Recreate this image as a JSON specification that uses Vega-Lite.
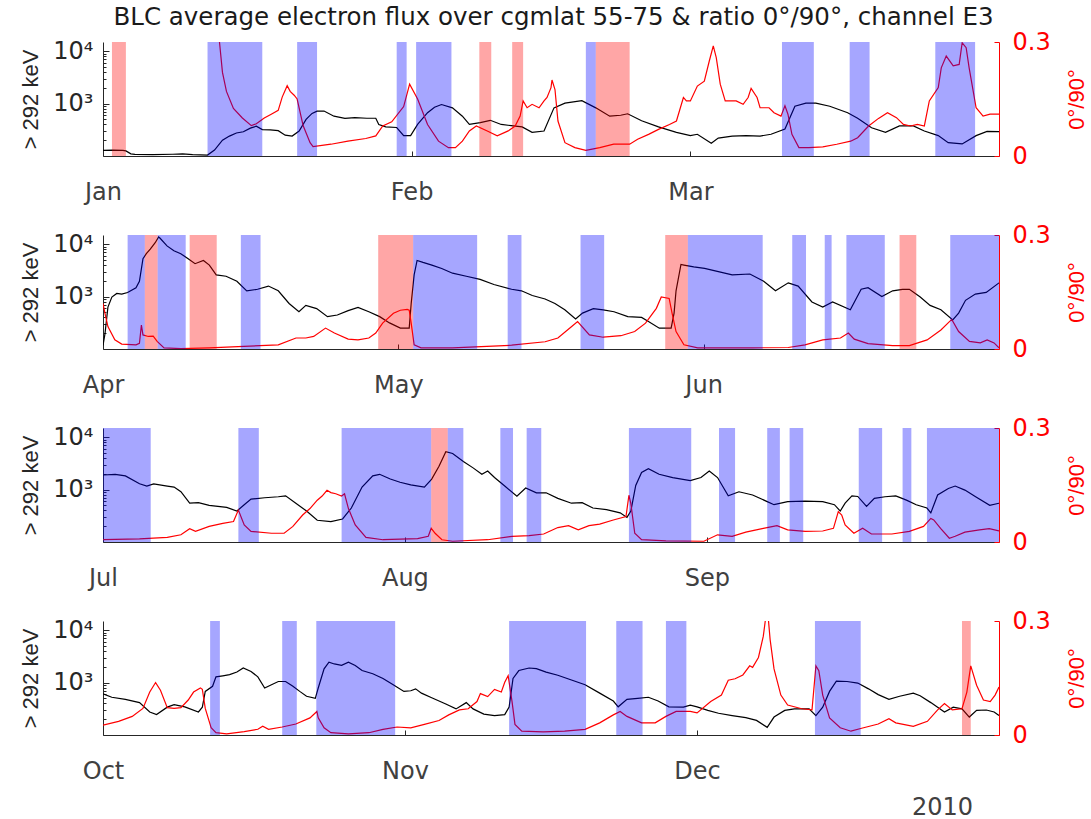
{
  "$schema": "https://vega.github.io/schema/vega-lite/v6.json",
  "padding": {"left": 19, "top": 4, "right": 0, "bottom": 12},
  "background": "#ffffff",
  "title": {
    "text": "BLC average electron flux over cgmlat 55-75 & ratio 0°/90°, channel E3",
    "font": "DejaVu Sans", "fontSize": 24.5, "fontWeight": "normal", "color": "#1a1a1a",
    "anchor": "middle", "offset": 0
  },
  "datasets": {
    "flux": [
      {"q":1,"doy":1,"v":128},{"q":1,"doy":2,"v":130},{"q":1,"doy":3,"v":128},{"q":1,"doy":3.3,"v":125},{"q":1,"doy":3.8,"v":110},{"q":1,"doy":4.2,"v":107},{"q":1,"doy":6,"v":106},{"q":1,"doy":8,"v":108},{"q":1,"doy":9,"v":110},{"q":1,"doy":10,"v":106},{"q":1,"doy":11.5,"v":104},{"q":1,"doy":12.2,"v":130},{"q":1,"doy":13,"v":200},{"q":1,"doy":13.7,"v":240},{"q":1,"doy":14.4,"v":275},{"q":1,"doy":15.1,"v":290},{"q":1,"doy":15.8,"v":340},{"q":1,"doy":16.4,"v":370},{"q":1,"doy":17,"v":320},{"q":1,"doy":17.8,"v":315},{"q":1,"doy":18.6,"v":305},{"q":1,"doy":19.3,"v":250},{"q":1,"doy":20,"v":240},{"q":1,"doy":20.7,"v":300},{"q":1,"doy":21.4,"v":500},{"q":1,"doy":22,"v":650},{"q":1,"doy":22.5,"v":720},{"q":1,"doy":23.2,"v":720},{"q":1,"doy":24.2,"v":575},{"q":1,"doy":25.3,"v":525},{"q":1,"doy":26.3,"v":540},{"q":1,"doy":27.5,"v":525},{"q":1,"doy":28.4,"v":525},{"q":1,"doy":28.7,"v":400},{"q":1,"doy":29.4,"v":360},{"q":1,"doy":30.5,"v":350},{"q":1,"doy":31.2,"v":245},{"q":1,"doy":31.9,"v":245},{"q":1,"doy":32.6,"v":400},{"q":1,"doy":33.6,"v":670},{"q":1,"doy":34.3,"v":850},{"q":1,"doy":35,"v":960},{"q":1,"doy":36.1,"v":830},{"q":1,"doy":37.1,"v":575},{"q":1,"doy":37.8,"v":400},{"q":1,"doy":38.9,"v":435},{"q":1,"doy":39.9,"v":480},{"q":1,"doy":41,"v":400},{"q":1,"doy":42,"v":380},{"q":1,"doy":43.1,"v":360},{"q":1,"doy":44.1,"v":283},{"q":1,"doy":45.3,"v":300},{"q":1,"doy":46.3,"v":830},{"q":1,"doy":47.4,"v":1020},{"q":1,"doy":49.1,"v":1140},{"q":1,"doy":50.5,"v":830},{"q":1,"doy":51.9,"v":575},{"q":1,"doy":53,"v":600},{"q":1,"doy":53.7,"v":640},{"q":1,"doy":55.1,"v":470},{"q":1,"doy":56.8,"v":360},{"q":1,"doy":58.6,"v":283},{"q":1,"doy":60,"v":245},{"q":1,"doy":60.7,"v":260},{"q":1,"doy":62.1,"v":175},{"q":1,"doy":62.8,"v":220},{"q":1,"doy":64.2,"v":240},{"q":1,"doy":65.6,"v":245},{"q":1,"doy":67,"v":240},{"q":1,"doy":68.1,"v":260},{"q":1,"doy":69.5,"v":326},{"q":1,"doy":70.5,"v":890},{"q":1,"doy":71.6,"v":1020},{"q":1,"doy":72.6,"v":1020},{"q":1,"doy":74,"v":890},{"q":1,"doy":75.8,"v":670},{"q":1,"doy":76.8,"v":525},{"q":1,"doy":78.2,"v":345},{"q":1,"doy":79.6,"v":283},{"q":1,"doy":81,"v":375},{"q":1,"doy":82.4,"v":375},{"q":1,"doy":83.5,"v":300},{"q":1,"doy":84.9,"v":245},{"q":1,"doy":85.9,"v":180},{"q":1,"doy":87.3,"v":170},{"q":1,"doy":88.7,"v":245},{"q":1,"doy":89.8,"v":295},{"q":1,"doy":91,"v":292},

      {"q":2,"doy":91,"v":117},{"q":2,"doy":91.2,"v":195},{"q":2,"doy":91.5,"v":630},{"q":2,"doy":91.9,"v":980},{"q":2,"doy":92.4,"v":1150},{"q":2,"doy":92.9,"v":1120},{"q":2,"doy":93.5,"v":1200},{"q":2,"doy":94.35,"v":1480},{"q":2,"doy":94.7,"v":1960},{"q":2,"doy":95.06,"v":5300},{"q":2,"doy":95.4,"v":6600},{"q":2,"doy":95.8,"v":8100},{"q":2,"doy":96.3,"v":10700},{"q":2,"doy":96.65,"v":13800},{"q":2,"doy":96.8,"v":13000},{"q":2,"doy":97.5,"v":9300},{"q":2,"doy":98.2,"v":7500},{"q":2,"doy":98.9,"v":6600},{"q":2,"doy":99.65,"v":5300},{"q":2,"doy":100.35,"v":4250},{"q":2,"doy":101.2,"v":4900},{"q":2,"doy":101.8,"v":4000},{"q":2,"doy":102.5,"v":2600},{"q":2,"doy":103.5,"v":2450},{"q":2,"doy":104.6,"v":1960},{"q":2,"doy":105.6,"v":1290},{"q":2,"doy":106.7,"v":1380},{"q":2,"doy":107.8,"v":1590},{"q":2,"doy":108.8,"v":1290},{"q":2,"doy":109.9,"v":740},{"q":2,"doy":110.9,"v":515},{"q":2,"doy":111.6,"v":680},{"q":2,"doy":112.7,"v":590},{"q":2,"doy":113.8,"v":415},{"q":2,"doy":114.8,"v":445},{"q":2,"doy":115.9,"v":540},{"q":2,"doy":116.9,"v":620},{"q":2,"doy":118,"v":515},{"q":2,"doy":119.1,"v":415},{"q":2,"doy":120.1,"v":315},{"q":2,"doy":121.2,"v":250},{"q":2,"doy":122.1,"v":250},{"q":2,"doy":122.3,"v":740},{"q":2,"doy":122.6,"v":2600},{"q":2,"doy":122.9,"v":4900},{"q":2,"doy":123.5,"v":4500},{"q":2,"doy":124.4,"v":4000},{"q":2,"doy":125.4,"v":3450},{"q":2,"doy":126.5,"v":2800},{"q":2,"doy":127.9,"v":2450},{"q":2,"doy":129.3,"v":2130},{"q":2,"doy":130.7,"v":1700},{"q":2,"doy":132.5,"v":1380},{"q":2,"doy":133.5,"v":1290},{"q":2,"doy":134.6,"v":1050},{"q":2,"doy":135.9,"v":900},{"q":2,"doy":136.9,"v":740},{"q":2,"doy":137.9,"v":560},{"q":2,"doy":139,"v":375},{"q":2,"doy":139.7,"v":485},{"q":2,"doy":140.8,"v":590},{"q":2,"doy":141.8,"v":560},{"q":2,"doy":142.9,"v":515},{"q":2,"doy":144.3,"v":415},{"q":2,"doy":145.7,"v":400},{"q":2,"doy":146.4,"v":335},{"q":2,"doy":147.5,"v":250},{"q":2,"doy":148.7,"v":250},{"q":2,"doy":149,"v":485},{"q":2,"doy":149.2,"v":1290},{"q":2,"doy":149.7,"v":4100},{"q":2,"doy":150,"v":4000},{"q":2,"doy":151,"v":3700},{"q":2,"doy":152.1,"v":3450},{"q":2,"doy":153.5,"v":3000},{"q":2,"doy":154.9,"v":2600},{"q":2,"doy":156.7,"v":2700},{"q":2,"doy":158.1,"v":1960},{"q":2,"doy":159.3,"v":1290},{"q":2,"doy":160.6,"v":1830},{"q":2,"doy":161.6,"v":1590},{"q":2,"doy":163,"v":790},{"q":2,"doy":164.1,"v":630},{"q":2,"doy":165.1,"v":790},{"q":2,"doy":166.9,"v":560},{"q":2,"doy":168,"v":1380},{"q":2,"doy":168.7,"v":1480},{"q":2,"doy":170.1,"v":1000},{"q":2,"doy":171.2,"v":1290},{"q":2,"doy":172.2,"v":1380},{"q":2,"doy":172.9,"v":1380},{"q":2,"doy":174,"v":980},{"q":2,"doy":175,"v":680},{"q":2,"doy":176.1,"v":560},{"q":2,"doy":177.3,"v":360},{"q":2,"doy":177.9,"v":485},{"q":2,"doy":178.6,"v":850},{"q":2,"doy":179.6,"v":1120},{"q":2,"doy":180.7,"v":1200},{"q":2,"doy":182,"v":1830},

      {"q":3,"doy":182,"v":1900},{"q":3,"doy":183.25,"v":1960},{"q":3,"doy":184.3,"v":1830},{"q":3,"doy":185.75,"v":1290},{"q":3,"doy":186.5,"v":1170},{"q":3,"doy":187.2,"v":1290},{"q":3,"doy":188.6,"v":1170},{"q":3,"doy":189.3,"v":1120},{"q":3,"doy":190,"v":910},{"q":3,"doy":190.9,"v":550},{"q":3,"doy":191.8,"v":565},{"q":3,"doy":192.9,"v":500},{"q":3,"doy":194.7,"v":457},{"q":3,"doy":195.75,"v":390},{"q":3,"doy":196.5,"v":515},{"q":3,"doy":197.2,"v":660},{"q":3,"doy":198.6,"v":700},{"q":3,"doy":200,"v":730},{"q":3,"doy":200.75,"v":760},{"q":3,"doy":201.8,"v":550},{"q":3,"doy":202.9,"v":390},{"q":3,"doy":204,"v":260},{"q":3,"doy":205.4,"v":245},{"q":3,"doy":206.6,"v":275},{"q":3,"doy":207.5,"v":445},{"q":3,"doy":208.6,"v":1120},{"q":3,"doy":209.7,"v":1830},{"q":3,"doy":210.4,"v":1960},{"q":3,"doy":211.5,"v":1590},{"q":3,"doy":212.5,"v":1380},{"q":3,"doy":213.6,"v":1230},{"q":3,"doy":215,"v":1120},{"q":3,"doy":215.75,"v":1590},{"q":3,"doy":216.5,"v":2800},{"q":3,"doy":217.2,"v":5300},{"q":3,"doy":217.9,"v":4900},{"q":3,"doy":219,"v":3450},{"q":3,"doy":220,"v":2600},{"q":3,"doy":220.9,"v":1960},{"q":3,"doy":221.5,"v":2270},{"q":3,"doy":222.2,"v":1700},{"q":3,"doy":223.25,"v":1170},{"q":3,"doy":224.5,"v":750},{"q":3,"doy":225.4,"v":1070},{"q":3,"doy":226.5,"v":870},{"q":3,"doy":227.5,"v":870},{"q":3,"doy":228.7,"v":680},{"q":3,"doy":230.1,"v":550},{"q":3,"doy":231.2,"v":565},{"q":3,"doy":232.3,"v":445},{"q":3,"doy":233.7,"v":415},{"q":3,"doy":235.1,"v":360},{"q":3,"doy":235.8,"v":295},{"q":3,"doy":236.2,"v":390},{"q":3,"doy":236.7,"v":1200},{"q":3,"doy":237.3,"v":2130},{"q":3,"doy":238,"v":2500},{"q":3,"doy":239.1,"v":1960},{"q":3,"doy":240.5,"v":1700},{"q":3,"doy":242.3,"v":1480},{"q":3,"doy":243.4,"v":1700},{"q":3,"doy":244.25,"v":2270},{"q":3,"doy":245.1,"v":1700},{"q":3,"doy":246.2,"v":760},{"q":3,"doy":247.3,"v":910},{"q":3,"doy":248.7,"v":790},{"q":3,"doy":250.2,"v":590},{"q":3,"doy":250.9,"v":515},{"q":3,"doy":252.3,"v":590},{"q":3,"doy":254.1,"v":605},{"q":3,"doy":255.9,"v":590},{"q":3,"doy":257.1,"v":515},{"q":3,"doy":257.7,"v":390},{"q":3,"doy":258.2,"v":550},{"q":3,"doy":258.9,"v":760},{"q":3,"doy":259.5,"v":740},{"q":3,"doy":260.4,"v":480},{"q":3,"doy":261.2,"v":680},{"q":3,"doy":262.3,"v":730},{"q":3,"doy":263.4,"v":760},{"q":3,"doy":264.5,"v":630},{"q":3,"doy":265.5,"v":515},{"q":3,"doy":266.6,"v":445},{"q":3,"doy":267,"v":360},{"q":3,"doy":267.7,"v":790},{"q":3,"doy":268.8,"v":1050},{"q":3,"doy":269.5,"v":1170},{"q":3,"doy":270.5,"v":980},{"q":3,"doy":271.6,"v":730},{"q":3,"doy":273.05,"v":500},{"q":3,"doy":274,"v":550},

      {"q":4,"doy":274,"v":610},{"q":4,"doy":274.9,"v":525},{"q":4,"doy":276.3,"v":480},{"q":4,"doy":277.75,"v":415},{"q":4,"doy":278.8,"v":275},{"q":4,"doy":279.5,"v":245},{"q":4,"doy":280.6,"v":340},{"q":4,"doy":281.3,"v":380},{"q":4,"doy":282.4,"v":345},{"q":4,"doy":283.8,"v":275},{"q":4,"doy":284.2,"v":340},{"q":4,"doy":284.5,"v":680},{"q":4,"doy":285.25,"v":850},{"q":4,"doy":285.6,"v":1290},{"q":4,"doy":286.3,"v":1350},{"q":4,"doy":287,"v":1420},{"q":4,"doy":287.75,"v":1590},{"q":4,"doy":288.4,"v":1900},{"q":4,"doy":289.2,"v":1630},{"q":4,"doy":289.9,"v":1290},{"q":4,"doy":290.6,"v":790},{"q":4,"doy":291.3,"v":910},{"q":4,"doy":292,"v":1050},{"q":4,"doy":292.75,"v":1050},{"q":4,"doy":293.5,"v":850},{"q":4,"doy":294.2,"v":680},{"q":4,"doy":294.9,"v":550},{"q":4,"doy":295.8,"v":500},{"q":4,"doy":296.1,"v":790},{"q":4,"doy":296.7,"v":1830},{"q":4,"doy":297.2,"v":2450},{"q":4,"doy":297.75,"v":2270},{"q":4,"doy":298.5,"v":2130},{"q":4,"doy":299.2,"v":2450},{"q":4,"doy":299.9,"v":2130},{"q":4,"doy":300.6,"v":1700},{"q":4,"doy":301.7,"v":1480},{"q":4,"doy":302.75,"v":1200},{"q":4,"doy":303.8,"v":910},{"q":4,"doy":304.9,"v":680},{"q":4,"doy":305.6,"v":700},{"q":4,"doy":306.1,"v":760},{"q":4,"doy":306.7,"v":630},{"q":4,"doy":307.75,"v":515},{"q":4,"doy":309.2,"v":390},{"q":4,"doy":310.25,"v":315},{"q":4,"doy":311.3,"v":415},{"q":4,"doy":312,"v":315},{"q":4,"doy":313.1,"v":250},{"q":4,"doy":314.2,"v":235},{"q":4,"doy":315.25,"v":245},{"q":4,"doy":315.7,"v":340},{"q":4,"doy":316.1,"v":1200},{"q":4,"doy":316.7,"v":1700},{"q":4,"doy":317.75,"v":1900},{"q":4,"doy":318.5,"v":1850},{"q":4,"doy":319.5,"v":1590},{"q":4,"doy":320.7,"v":1380},{"q":4,"doy":322.1,"v":1120},{"q":4,"doy":323.5,"v":910},{"q":4,"doy":325,"v":630},{"q":4,"doy":326.4,"v":445},{"q":4,"doy":326.9,"v":345},{"q":4,"doy":327.8,"v":480},{"q":4,"doy":328.9,"v":500},{"q":4,"doy":330,"v":525},{"q":4,"doy":331,"v":445},{"q":4,"doy":332.1,"v":345},{"q":4,"doy":333.6,"v":340},{"q":4,"doy":334.3,"v":370},{"q":4,"doy":335,"v":345},{"q":4,"doy":336.1,"v":295},{"q":4,"doy":337.2,"v":260},{"q":4,"doy":338.6,"v":235},{"q":4,"doy":340,"v":215},{"q":4,"doy":341.1,"v":190},{"q":4,"doy":342.2,"v":140},{"q":4,"doy":342.9,"v":220},{"q":4,"doy":344,"v":295},{"q":4,"doy":345,"v":315},{"q":4,"doy":346.5,"v":315},{"q":4,"doy":347.2,"v":235},{"q":4,"doy":347.9,"v":340},{"q":4,"doy":348.6,"v":680},{"q":4,"doy":349.3,"v":1070},{"q":4,"doy":350.4,"v":1050},{"q":4,"doy":351.5,"v":980},{"q":4,"doy":352.6,"v":760},{"q":4,"doy":353.6,"v":590},{"q":4,"doy":354.7,"v":480},{"q":4,"doy":355.8,"v":550},{"q":4,"doy":357.2,"v":630},{"q":4,"doy":357.9,"v":560},{"q":4,"doy":359,"v":415},{"q":4,"doy":360.4,"v":275},{"q":4,"doy":361.3,"v":340},{"q":4,"doy":362.2,"v":315},{"q":4,"doy":362.95,"v":220},{"q":4,"doy":363.7,"v":295},{"q":4,"doy":364.7,"v":300},{"q":4,"doy":365.5,"v":275},{"q":4,"doy":366,"v":235}
    ],
    "ratio": [
      {"q":1,"doy":1,"v":0.6},{"q":1,"doy":11.5,"v":0.6},{"q":1,"doy":12.3,"v":0.42},{"q":1,"doy":12.7,"v":0.3},{"q":1,"doy":13,"v":0.22},{"q":1,"doy":13.4,"v":0.17},{"q":1,"doy":14.1,"v":0.125},{"q":1,"doy":15,"v":0.1},{"q":1,"doy":15.9,"v":0.08},{"q":1,"doy":16.4,"v":0.085},{"q":1,"doy":17.2,"v":0.1},{"q":1,"doy":17.9,"v":0.11},{"q":1,"doy":18.6,"v":0.12},{"q":1,"doy":19,"v":0.155},{"q":1,"doy":19.5,"v":0.185},{"q":1,"doy":19.8,"v":0.17},{"q":1,"doy":20.2,"v":0.16},{"q":1,"doy":20.5,"v":0.15},{"q":1,"doy":21.1,"v":0.08},{"q":1,"doy":21.8,"v":0.035},{"q":1,"doy":22.1,"v":0.025},{"q":1,"doy":23.9,"v":0.031},{"q":1,"doy":25.6,"v":0.039},{"q":1,"doy":27.4,"v":0.046},{"q":1,"doy":28.4,"v":0.053},{"q":1,"doy":29.1,"v":0.079},{"q":1,"doy":30,"v":0.09},{"q":1,"doy":31.2,"v":0.13},{"q":1,"doy":31.8,"v":0.189},{"q":1,"doy":32.6,"v":0.15},{"q":1,"doy":33.6,"v":0.083},{"q":1,"doy":34.7,"v":0.039},{"q":1,"doy":35.7,"v":0.022},{"q":1,"doy":36.4,"v":0.022},{"q":1,"doy":37.1,"v":0.039},{"q":1,"doy":37.8,"v":0.066},{"q":1,"doy":38.5,"v":0.079},{"q":1,"doy":39.6,"v":0.066},{"q":1,"doy":40.6,"v":0.053},{"q":1,"doy":41.7,"v":0.066},{"q":1,"doy":42.4,"v":0.079},{"q":1,"doy":42.9,"v":0.105},{"q":1,"doy":43.2,"v":0.145},{"q":1,"doy":43.6,"v":0.127},{"q":1,"doy":44.1,"v":0.136},{"q":1,"doy":44.8,"v":0.127},{"q":1,"doy":45.3,"v":0.145},{"q":1,"doy":45.6,"v":0.154},{"q":1,"doy":46,"v":0.18},{"q":1,"doy":46.1,"v":0.2},{"q":1,"doy":46.4,"v":0.175},{"q":1,"doy":46.7,"v":0.092},{"q":1,"doy":47.4,"v":0.035},{"q":1,"doy":48.4,"v":0.022},{"q":1,"doy":49.5,"v":0.015},{"q":1,"doy":50.9,"v":0.022},{"q":1,"doy":52.3,"v":0.031},{"q":1,"doy":53.9,"v":0.031},{"q":1,"doy":54.7,"v":0.044},{"q":1,"doy":55.8,"v":0.057},{"q":1,"doy":56.8,"v":0.07},{"q":1,"doy":57.9,"v":0.083},{"q":1,"doy":58.6,"v":0.092},{"q":1,"doy":59.3,"v":0.154},{"q":1,"doy":59.6,"v":0.145},{"q":1,"doy":60,"v":0.145},{"q":1,"doy":60.7,"v":0.184},{"q":1,"doy":61.4,"v":0.197},{"q":1,"doy":61.9,"v":0.25},{"q":1,"doy":62.3,"v":0.29},{"q":1,"doy":62.6,"v":0.259},{"q":1,"doy":63,"v":0.189},{"q":1,"doy":63.5,"v":0.145},{"q":1,"doy":64.6,"v":0.145},{"q":1,"doy":65.3,"v":0.136},{"q":1,"doy":65.8,"v":0.154},{"q":1,"doy":66.1,"v":0.178},{"q":1,"doy":66.7,"v":0.154},{"q":1,"doy":67,"v":0.127},{"q":1,"doy":67.9,"v":0.127},{"q":1,"doy":68.4,"v":0.114},{"q":1,"doy":69.1,"v":0.105},{"q":1,"doy":69.5,"v":0.132},{"q":1,"doy":69.8,"v":0.11},{"q":1,"doy":70.2,"v":0.057},{"q":1,"doy":70.9,"v":0.022},{"q":1,"doy":71.9,"v":0.022},{"q":1,"doy":73.3,"v":0.024},{"q":1,"doy":74.7,"v":0.031},{"q":1,"doy":76.1,"v":0.039},{"q":1,"doy":76.8,"v":0.048},{"q":1,"doy":77.9,"v":0.079},{"q":1,"doy":78.9,"v":0.099},{"q":1,"doy":79.8,"v":0.114},{"q":1,"doy":80.7,"v":0.101},{"q":1,"doy":81.4,"v":0.083},{"q":1,"doy":82.1,"v":0.079},{"q":1,"doy":82.8,"v":0.083},{"q":1,"doy":83.5,"v":0.079},{"q":1,"doy":84,"v":0.145},{"q":1,"doy":84.9,"v":0.18},{"q":1,"doy":85.2,"v":0.232},{"q":1,"doy":85.7,"v":0.263},{"q":1,"doy":86.4,"v":0.237},{"q":1,"doy":87,"v":0.241},{"q":1,"doy":87.3,"v":0.298},{"q":1,"doy":87.7,"v":0.285},{"q":1,"doy":88,"v":0.232},{"q":1,"doy":88.7,"v":0.127},{"q":1,"doy":89.4,"v":0.105},{"q":1,"doy":90.1,"v":0.11},{"q":1,"doy":91,"v":0.11},

      {"q":2,"doy":91,"v":0.12},{"q":2,"doy":91.2,"v":0.094},{"q":2,"doy":91.5,"v":0.059},{"q":2,"doy":92.2,"v":0.024},{"q":2,"doy":92.9,"v":0.013},{"q":2,"doy":94.35,"v":0.011},{"q":2,"doy":94.7,"v":0.015},{"q":2,"doy":94.9,"v":0.063},{"q":2,"doy":95.06,"v":0.037},{"q":2,"doy":95.6,"v":0.033},{"q":2,"doy":96.1,"v":0.034},{"q":2,"doy":96.5,"v":0.02},{"q":2,"doy":97.2,"v":0.003},{"q":2,"doy":98.9,"v":0.001},{"q":2,"doy":101.8,"v":0.003},{"q":2,"doy":105.3,"v":0.007},{"q":2,"doy":108.8,"v":0.011},{"q":2,"doy":110.6,"v":0.029},{"q":2,"doy":111.6,"v":0.029},{"q":2,"doy":112.4,"v":0.033},{"q":2,"doy":113.6,"v":0.055},{"q":2,"doy":114.5,"v":0.042},{"q":2,"doy":115.9,"v":0.026},{"q":2,"doy":116.9,"v":0.024},{"q":2,"doy":118,"v":0.029},{"q":2,"doy":118.7,"v":0.042},{"q":2,"doy":119.4,"v":0.068},{"q":2,"doy":120.5,"v":0.094},{"q":2,"doy":121.2,"v":0.102},{"q":2,"doy":121.9,"v":0.104},{"q":2,"doy":122.1,"v":0.102},{"q":2,"doy":122.3,"v":0.068},{"q":2,"doy":122.6,"v":0.011},{"q":2,"doy":123.3,"v":0.003},{"q":2,"doy":126.5,"v":0.003},{"q":2,"doy":130,"v":0.007},{"q":2,"doy":132.5,"v":0.01},{"q":2,"doy":135.9,"v":0.019},{"q":2,"doy":137.2,"v":0.029},{"q":2,"doy":138.6,"v":0.059},{"q":2,"doy":139.2,"v":0.072},{"q":2,"doy":140.4,"v":0.037},{"q":2,"doy":141.8,"v":0.031},{"q":2,"doy":143.6,"v":0.035},{"q":2,"doy":145,"v":0.046},{"q":2,"doy":146.1,"v":0.068},{"q":2,"doy":147.2,"v":0.107},{"q":2,"doy":147.7,"v":0.137},{"q":2,"doy":148.5,"v":0.133},{"q":2,"doy":148.8,"v":0.094},{"q":2,"doy":149.2,"v":0.046},{"q":2,"doy":150,"v":0.011},{"q":2,"doy":151.4,"v":0.003},{"q":2,"doy":157,"v":0.003},{"q":2,"doy":160.6,"v":0.004},{"q":2,"doy":162.3,"v":0.011},{"q":2,"doy":164.1,"v":0.024},{"q":2,"doy":165.9,"v":0.029},{"q":2,"doy":166.7,"v":0.042},{"q":2,"doy":167.3,"v":0.026},{"q":2,"doy":168.7,"v":0.014},{"q":2,"doy":171.2,"v":0.009},{"q":2,"doy":172.9,"v":0.009},{"q":2,"doy":174.7,"v":0.024},{"q":2,"doy":176.1,"v":0.05},{"q":2,"doy":177.2,"v":0.078},{"q":2,"doy":177.9,"v":0.046},{"q":2,"doy":179,"v":0.02},{"q":2,"doy":180.1,"v":0.016},{"q":2,"doy":180.8,"v":0.024},{"q":2,"doy":181.5,"v":0.016},{"q":2,"doy":182,"v":0.003},

      {"q":3,"doy":182,"v":0.006},{"q":3,"doy":185.75,"v":0.008},{"q":3,"doy":188.6,"v":0.012},{"q":3,"doy":190,"v":0.019},{"q":3,"doy":190.9,"v":0.035},{"q":3,"doy":191.5,"v":0.028},{"q":3,"doy":192.9,"v":0.041},{"q":3,"doy":194.3,"v":0.049},{"q":3,"doy":195.4,"v":0.054},{"q":3,"doy":195.9,"v":0.084},{"q":3,"doy":196.5,"v":0.045},{"q":3,"doy":197.2,"v":0.028},{"q":3,"doy":199.3,"v":0.023},{"q":3,"doy":200.6,"v":0.023},{"q":3,"doy":201.5,"v":0.041},{"q":3,"doy":202.5,"v":0.071},{"q":3,"doy":203.25,"v":0.088},{"q":3,"doy":204,"v":0.11},{"q":3,"doy":204.5,"v":0.121},{"q":3,"doy":205,"v":0.136},{"q":3,"doy":205.4,"v":0.13},{"q":3,"doy":205.9,"v":0.127},{"q":3,"doy":206.5,"v":0.121},{"q":3,"doy":206.8,"v":0.127},{"q":3,"doy":207.2,"v":0.088},{"q":3,"doy":207.9,"v":0.045},{"q":3,"doy":209,"v":0.012},{"q":3,"doy":210.75,"v":0.006},{"q":3,"doy":214.3,"v":0.009},{"q":3,"doy":215.4,"v":0.015},{"q":3,"doy":215.7,"v":0.036},{"q":3,"doy":216.1,"v":0.023},{"q":3,"doy":216.8,"v":0.006},{"q":3,"doy":217.9,"v":0.002},{"q":3,"doy":221.5,"v":0.006},{"q":3,"doy":224,"v":0.015},{"q":3,"doy":225.75,"v":0.017},{"q":3,"doy":227.25,"v":0.021},{"q":3,"doy":228.7,"v":0.038},{"q":3,"doy":229.8,"v":0.043},{"q":3,"doy":230.8,"v":0.032},{"q":3,"doy":231.9,"v":0.043},{"q":3,"doy":233,"v":0.047},{"q":3,"doy":234.4,"v":0.058},{"q":3,"doy":235.7,"v":0.067},{"q":3,"doy":236,"v":0.123},{"q":3,"doy":236.2,"v":0.101},{"q":3,"doy":236.6,"v":0.023},{"q":3,"doy":237.3,"v":0.006},{"q":3,"doy":239.8,"v":0.003},{"q":3,"doy":243.7,"v":0.002},{"q":3,"doy":245.1,"v":0.019},{"q":3,"doy":246.6,"v":0.015},{"q":3,"doy":248,"v":0.026},{"q":3,"doy":249.8,"v":0.036},{"q":3,"doy":251.2,"v":0.043},{"q":3,"doy":252.3,"v":0.032},{"q":3,"doy":254.1,"v":0.028},{"q":3,"doy":255.9,"v":0.029},{"q":3,"doy":257,"v":0.036},{"q":3,"doy":257.5,"v":0.08},{"q":3,"doy":257.85,"v":0.071},{"q":3,"doy":258.2,"v":0.045},{"q":3,"doy":259.1,"v":0.023},{"q":3,"doy":260,"v":0.036},{"q":3,"doy":260.9,"v":0.021},{"q":3,"doy":263,"v":0.021},{"q":3,"doy":264.8,"v":0.028},{"q":3,"doy":266.25,"v":0.041},{"q":3,"doy":267,"v":0.062},{"q":3,"doy":267.3,"v":0.058},{"q":3,"doy":268,"v":0.036},{"q":3,"doy":268.9,"v":0.01},{"q":3,"doy":269.5,"v":0.015},{"q":3,"doy":270.5,"v":0.026},{"q":3,"doy":272,"v":0.032},{"q":3,"doy":273,"v":0.035},{"q":3,"doy":274,"v":0.029},

      {"q":4,"doy":274,"v":0.026},{"q":4,"doy":275.6,"v":0.036},{"q":4,"doy":277,"v":0.049},{"q":4,"doy":278.1,"v":0.07},{"q":4,"doy":278.8,"v":0.113},{"q":4,"doy":279.4,"v":0.138},{"q":4,"doy":279.9,"v":0.118},{"q":4,"doy":280.6,"v":0.072},{"q":4,"doy":281.3,"v":0.07},{"q":4,"doy":282,"v":0.072},{"q":4,"doy":282.75,"v":0.092},{"q":4,"doy":283.3,"v":0.113},{"q":4,"doy":284,"v":0.124},{"q":4,"doy":284.2,"v":0.12},{"q":4,"doy":284.5,"v":0.07},{"q":4,"doy":285.1,"v":0.019},{"q":4,"doy":285.6,"v":0.006},{"q":4,"doy":286.7,"v":0.003},{"q":4,"doy":288.5,"v":0.009},{"q":4,"doy":289.9,"v":0.015},{"q":4,"doy":290.4,"v":0.023},{"q":4,"doy":291,"v":0.015},{"q":4,"doy":292.4,"v":0.021},{"q":4,"doy":293.8,"v":0.029},{"q":4,"doy":295.25,"v":0.045},{"q":4,"doy":295.96,"v":0.062},{"q":4,"doy":296.1,"v":0.045},{"q":4,"doy":296.7,"v":0.019},{"q":4,"doy":297.4,"v":0.006},{"q":4,"doy":299.2,"v":0.003},{"q":4,"doy":301.3,"v":0.006},{"q":4,"doy":302.75,"v":0.015},{"q":4,"doy":304.2,"v":0.021},{"q":4,"doy":305.6,"v":0.019},{"q":4,"doy":307,"v":0.028},{"q":4,"doy":308.5,"v":0.038},{"q":4,"doy":309.5,"v":0.053},{"q":4,"doy":310.6,"v":0.066},{"q":4,"doy":311.5,"v":0.069},{"q":4,"doy":312.4,"v":0.088},{"q":4,"doy":312.75,"v":0.109},{"q":4,"doy":313.5,"v":0.101},{"q":4,"doy":314.2,"v":0.12},{"q":4,"doy":314.9,"v":0.113},{"q":4,"doy":315.25,"v":0.139},{"q":4,"doy":315.6,"v":0.156},{"q":4,"doy":316,"v":0.088},{"q":4,"doy":316.3,"v":0.028},{"q":4,"doy":317,"v":0.01},{"q":4,"doy":319.2,"v":0.008},{"q":4,"doy":321.4,"v":0.01},{"q":4,"doy":323.5,"v":0.015},{"q":4,"doy":325,"v":0.032},{"q":4,"doy":326.4,"v":0.053},{"q":4,"doy":327.1,"v":0.062},{"q":4,"doy":327.8,"v":0.049},{"q":4,"doy":329.3,"v":0.032},{"q":4,"doy":330.7,"v":0.032},{"q":4,"doy":331.8,"v":0.049},{"q":4,"doy":332.85,"v":0.062},{"q":4,"doy":334.3,"v":0.062},{"q":4,"doy":335,"v":0.058},{"q":4,"doy":336.4,"v":0.088},{"q":4,"doy":337.5,"v":0.105},{"q":4,"doy":338.2,"v":0.144},{"q":4,"doy":338.9,"v":0.148},{"q":4,"doy":339.7,"v":0.158},{"q":4,"doy":340.4,"v":0.182},{"q":4,"doy":340.7,"v":0.178},{"q":4,"doy":341.3,"v":0.204},{"q":4,"doy":341.8,"v":0.26},{"q":4,"doy":342.2,"v":0.34},{"q":4,"doy":342.5,"v":0.251},{"q":4,"doy":342.9,"v":0.174},{"q":4,"doy":343.6,"v":0.105},{"q":4,"doy":344.3,"v":0.079},{"q":4,"doy":345.75,"v":0.069},{"q":4,"doy":346.8,"v":0.066},{"q":4,"doy":347.2,"v":0.182},{"q":4,"doy":347.5,"v":0.169},{"q":4,"doy":347.9,"v":0.105},{"q":4,"doy":348.6,"v":0.045},{"q":4,"doy":349.7,"v":0.019},{"q":4,"doy":350.8,"v":0.01},{"q":4,"doy":351.8,"v":0.017},{"q":4,"doy":353.6,"v":0.029},{"q":4,"doy":354.7,"v":0.043},{"q":4,"doy":355.4,"v":0.032},{"q":4,"doy":357.2,"v":0.023},{"q":4,"doy":358.65,"v":0.036},{"q":4,"doy":359.7,"v":0.066},{"q":4,"doy":360.4,"v":0.083},{"q":4,"doy":361.2,"v":0.066},{"q":4,"doy":362.2,"v":0.069},{"q":4,"doy":362.7,"v":0.113},{"q":4,"doy":363.1,"v":0.182},{"q":4,"doy":363.7,"v":0.131},{"q":4,"doy":364.4,"v":0.092},{"q":4,"doy":365.1,"v":0.088},{"q":4,"doy":365.6,"v":0.105},{"q":4,"doy":366,"v":0.126}
    ],
    "bands": [
      {"q":1,"s":1.9,"e":3.3,"c":"red"},{"q":1,"s":11.5,"e":17,"c":"blue"},{"q":1,"s":20.5,"e":22.5,"c":"blue"},{"q":1,"s":30.5,"e":31.5,"c":"blue"},{"q":1,"s":32.45,"e":36,"c":"blue"},{"q":1,"s":38.8,"e":40,"c":"red"},{"q":1,"s":42.1,"e":43.2,"c":"red"},{"q":1,"s":49.5,"e":50.5,"c":"blue"},{"q":1,"s":50.5,"e":53.9,"c":"red"},{"q":1,"s":69.2,"e":72.4,"c":"blue"},{"q":1,"s":76,"e":78,"c":"blue"},{"q":1,"s":84.6,"e":88.6,"c":"blue"},
      {"q":2,"s":93.5,"e":95.25,"c":"blue"},{"q":2,"s":95.25,"e":96.55,"c":"red"},{"q":2,"s":96.55,"e":99.4,"c":"blue"},{"q":2,"s":99.8,"e":102.55,"c":"red"},{"q":2,"s":105,"e":107,"c":"blue"},{"q":2,"s":118.95,"e":122.5,"c":"red"},{"q":2,"s":122.5,"e":129,"c":"blue"},{"q":2,"s":132.1,"e":133.5,"c":"blue"},{"q":2,"s":139.5,"e":141.9,"c":"blue"},{"q":2,"s":148.1,"e":150.4,"c":"red"},{"q":2,"s":150.4,"e":158,"c":"blue"},{"q":2,"s":161,"e":162.4,"c":"blue"},{"q":2,"s":164.3,"e":165,"c":"blue"},{"q":2,"s":166.5,"e":170.4,"c":"blue"},{"q":2,"s":171.9,"e":173.6,"c":"red"},{"q":2,"s":177.05,"e":182,"c":"blue"},
      {"q":3,"s":182,"e":186.9,"c":"blue"},{"q":3,"s":195.9,"e":198,"c":"blue"},{"q":3,"s":206.5,"e":215.7,"c":"blue"},{"q":3,"s":215.7,"e":217.4,"c":"red"},{"q":3,"s":217.4,"e":219,"c":"blue"},{"q":3,"s":222.8,"e":224.1,"c":"blue"},{"q":3,"s":225.5,"e":227,"c":"blue"},{"q":3,"s":236,"e":242.4,"c":"blue"},{"q":3,"s":245.25,"e":246.9,"c":"blue"},{"q":3,"s":250.2,"e":251.5,"c":"blue"},{"q":3,"s":252.5,"e":253.9,"c":"blue"},{"q":3,"s":259.6,"e":262,"c":"blue"},{"q":3,"s":264.1,"e":265,"c":"blue"},{"q":3,"s":266.6,"e":274,"c":"blue"},
      {"q":4,"s":285,"e":286,"c":"blue"},{"q":4,"s":292.4,"e":293.9,"c":"blue"},{"q":4,"s":295.9,"e":304,"c":"blue"},{"q":4,"s":315.7,"e":323.6,"c":"blue"},{"q":4,"s":326.7,"e":329.4,"c":"blue"},{"q":4,"s":331.8,"e":333.9,"c":"blue"},{"q":4,"s":347.1,"e":351.8,"c":"blue"},{"q":4,"s":362.2,"e":363.1,"c":"red"}
    ]
  },
  "vconcat": [
    {
      "width": 896, "height": 114,
      "layer": [
        {"data": {"name": "bands"}, "transform": [{"filter": "datum.q == 1"}],
         "mark": {"type": "rect", "opacity": 0},
         "encoding": {
           "x": {"field": "s", "type": "quantitative", "scale": {"domain": [1, 91], "nice": false, "zero": false},
                 "axis": {"values": [1, 32, 60], "labelExpr": "datum.value == 1 ? 'Jan' : datum.value == 32 ? 'Feb' : 'Mar'", "title": null}},
           "x2": {"field": "e"}
         }},
        {"data": {"name": "flux"}, "transform": [{"filter": "datum.q == 1"}],
         "mark": {"type": "line", "color": "#000000", "strokeWidth": 1.2, "clip": true},
         "encoding": {
           "x": {"field": "doy", "type": "quantitative", "scale": {"domain": [1, 91], "nice": false, "zero": false}},
           "y": {"field": "v", "type": "quantitative", "scale": {"type": "log", "domain": [100, 15000], "nice": false},
                 "axis": {"values": [200,300,400,500,600,700,800,900,1000,2000,3000,4000,5000,6000,7000,8000,9000,10000],
                          "labelExpr": "datum.value == 1000 ? '10³' : datum.value == 10000 ? '10⁴' : ''",
                          "tickSize": {"condition": {"test": "datum.value == 1000 || datum.value == 10000", "value": -6}, "value": -3},
                          "labelPadding": 16, "title": "> 292 keV"}}
         }},
        {"data": {"name": "ratio"}, "transform": [{"filter": "datum.q == 1"}],
         "mark": {"type": "line", "color": "#ff0000", "strokeWidth": 1.2, "clip": true},
         "encoding": {
           "x": {"field": "doy", "type": "quantitative", "scale": {"domain": [1, 91], "nice": false, "zero": false}},
           "y": {"field": "v", "type": "quantitative", "scale": {"domain": [0, 0.3], "nice": false, "zero": false},
                 "axis": {"orient": "right", "values": [0, 0.3], "labelExpr": "datum.value == 0 ? '0' : '0.3'",
                          "tickSize": -5, "labelPadding": 18, "domainColor": "#ff0000", "tickColor": "#ff0000", "labelColor": "#ff0000",
                          "title": "0°/90°", "titleColor": "#ff0000", "titleAngle": 270, "titlePadding": 38}}
         }},
        {"data": {"name": "bands"}, "transform": [{"filter": "datum.q == 1"}],
         "mark": {"type": "rect", "opacity": 0.35},
         "encoding": {
           "x": {"field": "s", "type": "quantitative", "scale": {"domain": [1, 91], "nice": false, "zero": false}},
           "x2": {"field": "e"},
           "color": {"field": "c", "type": "nominal", "scale": {"domain": ["blue", "red"], "range": ["#0000ff", "#ff0000"]}, "legend": null}
         }}
      ],
      "resolve": {"scale": {"y": "independent"}}
    },
    {
      "width": 896, "height": 114,
      "layer": [
        {"data": {"name": "bands"}, "transform": [{"filter": "datum.q == 2"}],
         "mark": {"type": "rect", "opacity": 0},
         "encoding": {
           "x": {"field": "s", "type": "quantitative", "scale": {"domain": [91, 182], "nice": false, "zero": false},
                 "axis": {"values": [91, 121, 152], "labelExpr": "datum.value == 91 ? 'Apr' : datum.value == 121 ? 'May' : 'Jun'", "title": null}},
           "x2": {"field": "e"}
         }},
        {"data": {"name": "flux"}, "transform": [{"filter": "datum.q == 2"}],
         "mark": {"type": "line", "color": "#000000", "strokeWidth": 1.2, "clip": true},
         "encoding": {
           "x": {"field": "doy", "type": "quantitative", "scale": {"domain": [91, 182], "nice": false, "zero": false}},
           "y": {"field": "v", "type": "quantitative", "scale": {"type": "log", "domain": [100, 15000], "nice": false},
                 "axis": {"values": [200,300,400,500,600,700,800,900,1000,2000,3000,4000,5000,6000,7000,8000,9000,10000],
                          "labelExpr": "datum.value == 1000 ? '10³' : datum.value == 10000 ? '10⁴' : ''",
                          "tickSize": {"condition": {"test": "datum.value == 1000 || datum.value == 10000", "value": -6}, "value": -3},
                          "labelPadding": 16, "title": "> 292 keV"}}
         }},
        {"data": {"name": "ratio"}, "transform": [{"filter": "datum.q == 2"}],
         "mark": {"type": "line", "color": "#ff0000", "strokeWidth": 1.2, "clip": true},
         "encoding": {
           "x": {"field": "doy", "type": "quantitative", "scale": {"domain": [91, 182], "nice": false, "zero": false}},
           "y": {"field": "v", "type": "quantitative", "scale": {"domain": [0, 0.3], "nice": false, "zero": false},
                 "axis": {"orient": "right", "values": [0, 0.3], "labelExpr": "datum.value == 0 ? '0' : '0.3'",
                          "tickSize": -5, "labelPadding": 18, "domainColor": "#ff0000", "tickColor": "#ff0000", "labelColor": "#ff0000",
                          "title": "0°/90°", "titleColor": "#ff0000", "titleAngle": 270, "titlePadding": 38}}
         }},
        {"data": {"name": "bands"}, "transform": [{"filter": "datum.q == 2"}],
         "mark": {"type": "rect", "opacity": 0.35},
         "encoding": {
           "x": {"field": "s", "type": "quantitative", "scale": {"domain": [91, 182], "nice": false, "zero": false}},
           "x2": {"field": "e"},
           "color": {"field": "c", "type": "nominal", "scale": {"domain": ["blue", "red"], "range": ["#0000ff", "#ff0000"]}, "legend": null}
         }}
      ],
      "resolve": {"scale": {"y": "independent"}}
    },
    {
      "width": 896, "height": 114,
      "layer": [
        {"data": {"name": "bands"}, "transform": [{"filter": "datum.q == 3"}],
         "mark": {"type": "rect", "opacity": 0},
         "encoding": {
           "x": {"field": "s", "type": "quantitative", "scale": {"domain": [182, 274], "nice": false, "zero": false},
                 "axis": {"values": [182, 213, 244], "labelExpr": "datum.value == 182 ? 'Jul' : datum.value == 213 ? 'Aug' : 'Sep'", "title": null}},
           "x2": {"field": "e"}
         }},
        {"data": {"name": "flux"}, "transform": [{"filter": "datum.q == 3"}],
         "mark": {"type": "line", "color": "#000000", "strokeWidth": 1.2, "clip": true},
         "encoding": {
           "x": {"field": "doy", "type": "quantitative", "scale": {"domain": [182, 274], "nice": false, "zero": false}},
           "y": {"field": "v", "type": "quantitative", "scale": {"type": "log", "domain": [100, 15000], "nice": false},
                 "axis": {"values": [200,300,400,500,600,700,800,900,1000,2000,3000,4000,5000,6000,7000,8000,9000,10000],
                          "labelExpr": "datum.value == 1000 ? '10³' : datum.value == 10000 ? '10⁴' : ''",
                          "tickSize": {"condition": {"test": "datum.value == 1000 || datum.value == 10000", "value": -6}, "value": -3},
                          "labelPadding": 16, "title": "> 292 keV"}}
         }},
        {"data": {"name": "ratio"}, "transform": [{"filter": "datum.q == 3"}],
         "mark": {"type": "line", "color": "#ff0000", "strokeWidth": 1.2, "clip": true},
         "encoding": {
           "x": {"field": "doy", "type": "quantitative", "scale": {"domain": [182, 274], "nice": false, "zero": false}},
           "y": {"field": "v", "type": "quantitative", "scale": {"domain": [0, 0.3], "nice": false, "zero": false},
                 "axis": {"orient": "right", "values": [0, 0.3], "labelExpr": "datum.value == 0 ? '0' : '0.3'",
                          "tickSize": -5, "labelPadding": 18, "domainColor": "#ff0000", "tickColor": "#ff0000", "labelColor": "#ff0000",
                          "title": "0°/90°", "titleColor": "#ff0000", "titleAngle": 270, "titlePadding": 38}}
         }},
        {"data": {"name": "bands"}, "transform": [{"filter": "datum.q == 3"}],
         "mark": {"type": "rect", "opacity": 0.35},
         "encoding": {
           "x": {"field": "s", "type": "quantitative", "scale": {"domain": [182, 274], "nice": false, "zero": false}},
           "x2": {"field": "e"},
           "color": {"field": "c", "type": "nominal", "scale": {"domain": ["blue", "red"], "range": ["#0000ff", "#ff0000"]}, "legend": null}
         }}
      ],
      "resolve": {"scale": {"y": "independent"}}
    },
    {
      "width": 896, "height": 114,
      "layer": [
        {"data": {"name": "bands"}, "transform": [{"filter": "datum.q == 4"}],
         "mark": {"type": "rect", "opacity": 0},
         "encoding": {
           "x": {"field": "s", "type": "quantitative", "scale": {"domain": [274, 366], "nice": false, "zero": false},
                 "axis": {"values": [274, 305, 335], "labelExpr": "datum.value == 274 ? 'Oct' : datum.value == 305 ? 'Nov' : 'Dec'",
                          "title": "2010", "titleX": 839, "titleY": 72, "titleAlign": "center", "titleBaseline": "middle",
                          "titleFont": "DejaVu Sans", "titleFontSize": 24, "titleColor": "#404040"}},
           "x2": {"field": "e"}
         }},
        {"data": {"name": "flux"}, "transform": [{"filter": "datum.q == 4"}],
         "mark": {"type": "line", "color": "#000000", "strokeWidth": 1.2, "clip": true},
         "encoding": {
           "x": {"field": "doy", "type": "quantitative", "scale": {"domain": [274, 366], "nice": false, "zero": false}},
           "y": {"field": "v", "type": "quantitative", "scale": {"type": "log", "domain": [100, 15000], "nice": false},
                 "axis": {"values": [200,300,400,500,600,700,800,900,1000,2000,3000,4000,5000,6000,7000,8000,9000,10000],
                          "labelExpr": "datum.value == 1000 ? '10³' : datum.value == 10000 ? '10⁴' : ''",
                          "tickSize": {"condition": {"test": "datum.value == 1000 || datum.value == 10000", "value": -6}, "value": -3},
                          "labelPadding": 16, "title": "> 292 keV"}}
         }},
        {"data": {"name": "ratio"}, "transform": [{"filter": "datum.q == 4"}],
         "mark": {"type": "line", "color": "#ff0000", "strokeWidth": 1.2, "clip": true},
         "encoding": {
           "x": {"field": "doy", "type": "quantitative", "scale": {"domain": [274, 366], "nice": false, "zero": false}},
           "y": {"field": "v", "type": "quantitative", "scale": {"domain": [0, 0.3], "nice": false, "zero": false},
                 "axis": {"orient": "right", "values": [0, 0.3], "labelExpr": "datum.value == 0 ? '0' : '0.3'",
                          "tickSize": -5, "labelPadding": 18, "domainColor": "#ff0000", "tickColor": "#ff0000", "labelColor": "#ff0000",
                          "title": "0°/90°", "titleColor": "#ff0000", "titleAngle": 270, "titlePadding": 38}}
         }},
        {"data": {"name": "bands"}, "transform": [{"filter": "datum.q == 4"}],
         "mark": {"type": "rect", "opacity": 0.35},
         "encoding": {
           "x": {"field": "s", "type": "quantitative", "scale": {"domain": [274, 366], "nice": false, "zero": false}},
           "x2": {"field": "e"},
           "color": {"field": "c", "type": "nominal", "scale": {"domain": ["blue", "red"], "range": ["#0000ff", "#ff0000"]}, "legend": null}
         }}
      ],
      "resolve": {"scale": {"y": "independent"}}
    }
  ],
  "spacing": 79,
  "bounds": "flush",
  "config": {
    "view": {"stroke": null},
    "axis": {
      "grid": false, "domainColor": "#262626", "tickColor": "#262626", "domainWidth": 1, "tickWidth": 1,
      "labelFont": "DejaVu Sans", "labelFontSize": 24, "labelColor": "#262626",
      "labelFlush": false, "labelOverlap": false, "labelBound": false,
      "titleFont": "Liberation Sans", "titleFontSize": 22, "titleFontWeight": "normal", "titleColor": "#262626"
    },
    "axisX": {"tickSize": -5, "labelPadding": 29, "labelColor": "#404040"},
    "axisY": {"titlePadding": 10}
  }
}
